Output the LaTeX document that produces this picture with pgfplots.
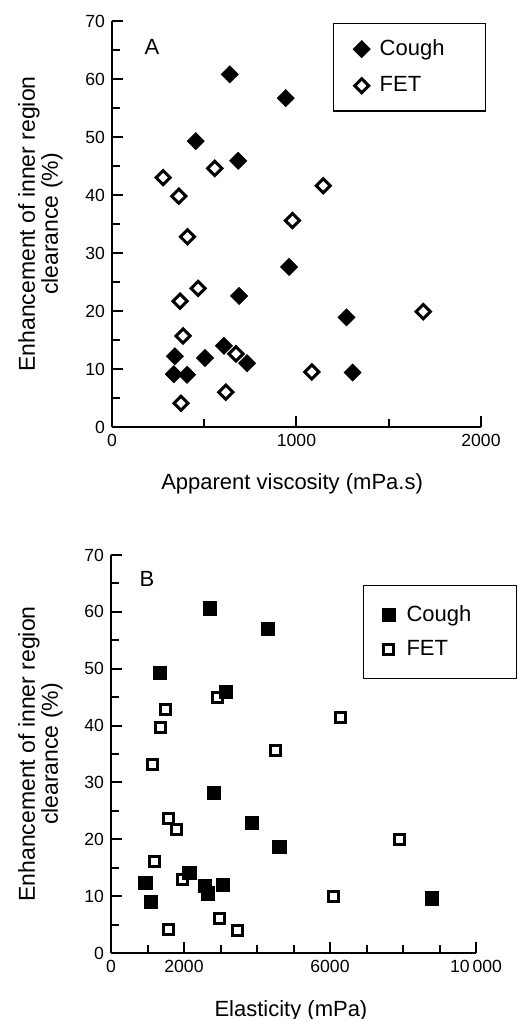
\documentclass[border=0pt]{standalone}
\usepackage{fontspec}
\setmainfont{Liberation Sans}
\usepackage{pgfplots}
\pgfplotsset{compat=1.18}

\pgfplotsset{
  panel/.style={
    scale only axis,
    anchor=south west,
    axis lines*=left,
    axis line style={line width=1pt},
    tick align=inside,
    major tick length=5.5pt,
    minor tick length=4pt,
    tick style={line width=1pt, black},
    ymin=0, ymax=70,
    ytick={0,10,...,70},
    minor ytick={5,15,...,65},
    scaled ticks=false,
    /pgf/number format/assume math mode=true,
    /pgf/number format/1000 sep={},
    tick label style={font=\fontsize{8.8}{10}\selectfont},
    xlabel style={font=\fontsize{11}{12}\selectfont, anchor=base},
    ylabel={Enhancement of inner region\\clearance (\%)},
    ylabel style={align=center, inner sep=0pt, anchor=north,
      at={(axis description cs:-0.255,0.5)}, font=\fontsize{11.5}{11.5}\selectfont},
    legend cell align=left,
    legend image code/.code={
      \path[draw=none] (0pt,0pt) -- (15.5pt,0pt);
      \path[##1, only marks, draw=none] plot coordinates {(8.5pt,0pt)};
    },
  },
}

\begin{document}
\begin{tikzpicture}
\useasboundingbox (0,0) rectangle (264pt,509.5pt);

% A: apparent viscosity
\begin{axis}[panel,
  at={(56pt,296pt)},
  width=184.5pt, height=203pt,
  xmin=0, xmax=2000,
  xtick={0,1000,2000},
  minor xtick={500,1500},
  xlabel={Apparent viscosity (mPa.s)},
  xlabel style={at={(axis description cs:0.488,0)}, yshift=-31.5pt},
  legend style={at={(rel axis cs:0.599,0.995)}, anchor=north west,
    draw=black, line width=0.7pt, inner xsep=5.5pt, inner ysep=6pt, row sep=5pt,
    font=\fontsize{11}{13}\selectfont},
]
\addplot[only marks, mark=square*, mark size=3pt,
  mark options={rotate=45, draw=black, fill=black, line width=0.4pt}] coordinates {
  (638,60.8) (942,56.7) (454,49.3) (684,45.9) (960,27.6) (689,22.6) (1271,18.9)
  (341,12.2) (504,11.9) (607,14.0) (732,11.0) (335,9.1) (407,9.0) (1304,9.4)
};
\addlegendentry{\makebox[45.5pt][l]{Cough}}
\addplot[only marks, mark=square*, mark size=2.5pt,
  mark options={rotate=45, draw=black, fill=white, line width=1.5pt}] coordinates {
  (277,43.0) (362,39.8) (557,44.6) (1145,41.6) (978,35.6) (409,32.8) (467,23.9)
  (369,21.7) (1687,19.9) (385,15.7) (672,12.6) (1083,9.5) (617,6.0) (374,4.1)
};
\addlegendentry{\makebox[45.5pt][l]{FET}}
\node[anchor=base, font=\fontsize{11}{12}\selectfont] at (axis cs:217,64.3) {A};
\end{axis}

% B: elasticity
\begin{axis}[panel,
  at={(55.5pt,33pt)},
  width=182.5pt, height=199pt,
  xmin=0, xmax=10000,
  xtick={0,2000,6000,10000},
  xticklabels={0,2000,6000,10\,000},
  minor xtick={1000,3000,4000,5000,7000,8000,9000},
  xlabel={Elasticity (mPa)},
  xlabel style={at={(axis description cs:0.493,0)}, yshift=-32pt},
  reverse legend,
  legend style={at={(rel axis cs:0.690,0.925)}, anchor=north west,
    draw=black, line width=0.7pt, inner xsep=4pt, inner ysep=8pt, row sep=4pt,
    font=\fontsize{11}{13}\selectfont},
]
\addplot[only marks, mark=square*, mark size=2.5pt,
  mark options={draw=black, fill=white, line width=1.5pt}] coordinates {
  (2919,44.9) (1482,42.9) (1354,39.7) (6285,41.5) (4511,35.7) (1125,33.1)
  (1583,23.7) (1793,21.8) (7914,20.0) (1180,16.1) (1949,12.9) (6084,9.9)
  (2973,6.1) (1574,4.1) (3467,3.9)
};
\addlegendentry{\makebox[49pt][l]{FET}}
\addplot[only marks, mark=square*, mark size=3.3pt,
  mark options={draw=black, fill=black, line width=0.4pt}] coordinates {
  (2717,60.6) (4309,57.0) (1336,49.3) (3138,45.9) (2809,28.1) (3861,22.9)
  (4611,18.7) (942,12.3) (1098,9.0) (2150,14.1) (2562,11.8) (2653,10.5)
  (3065,12.0) (8792,9.6)
};
\addlegendentry{\makebox[49pt][l]{Cough}}
\node[anchor=base, font=\fontsize{11}{12}\selectfont] at (axis cs:986,64.4) {B};
\end{axis}
\end{tikzpicture}
\end{document}
